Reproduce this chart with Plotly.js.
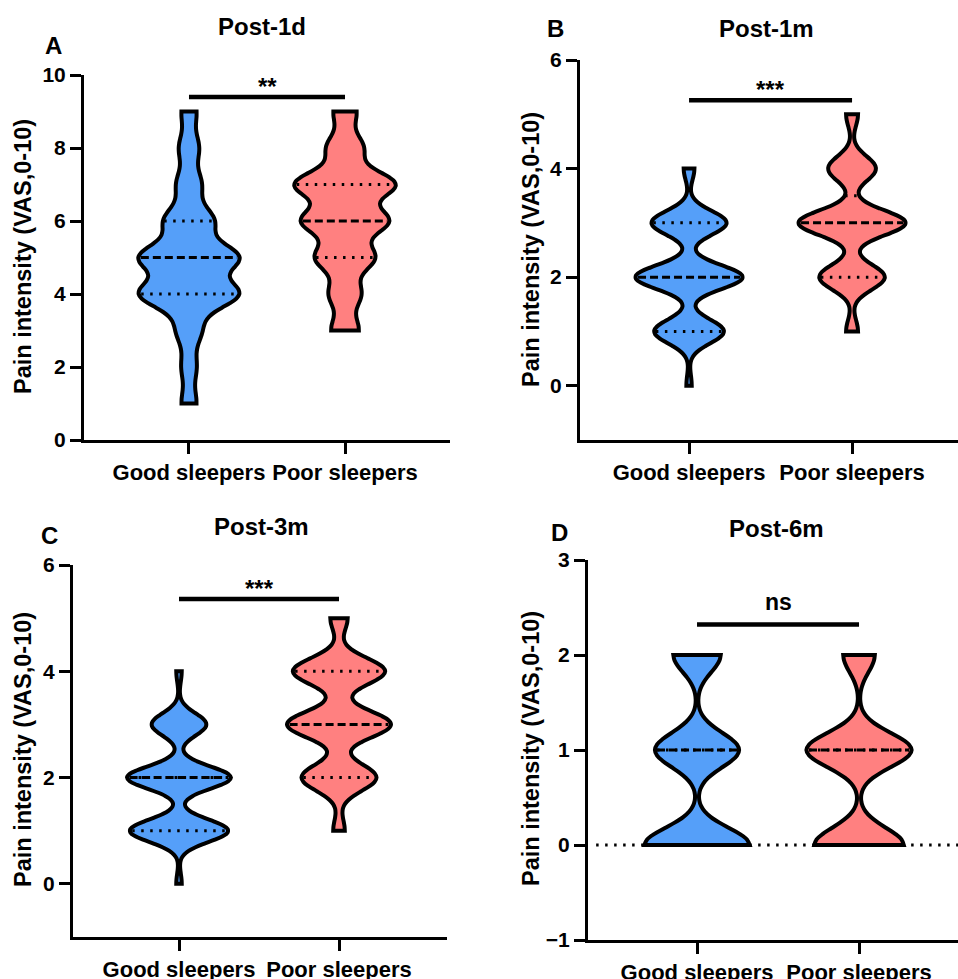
<!DOCTYPE html>
<html><head><meta charset="utf-8">
<script src="https://cdn.plot.ly/plotly-3.0.1.min.js"></script>
<style>html,body{margin:0;padding:0;background:#fff;}#chart{width:958px;height:979px;}</style>
</head><body><div id="chart"></div>
<script>
// ---------- data ----------
const groups = ['Good sleepers', 'Poor sleepers'];
const panelLetters = ['A', 'B', 'C', 'D'];
const panelTitles = ['Post-1d', 'Post-1m', 'Post-3m', 'Post-6m'];
const yTitle = 'Pain intensity (VAS,0-10)';
const significance = ['**', '***', '***', 'ns'];
// VAS score and number of patients with that score
const vasScores  = [0, 1, 2, 3, 4, 5, 6, 7, 8, 9, 10];
const post1dGood = [0, 3, 3, 5, 20, 20, 10, 5, 4, 3, 0];
const post1dPoor = [0, 0, 0, 6, 7, 13, 19, 22, 8, 5, 0];
const post1mGood = [1, 13, 20, 14, 2, 0, 0, 0, 0, 0, 0];
const post1mPoor = [0, 2, 11, 18, 8, 2, 0, 0, 0, 0, 0];
const post3mGood = [1, 18, 19, 10, 1, 0, 0, 0, 0, 0, 0];
const post3mPoor = [0, 2, 13, 18, 16, 3, 0, 0, 0, 0, 0];
const post6mGood = [20, 16, 9, 0, 0, 0, 0, 0, 0, 0, 0];
const post6mPoor = [17, 20, 6, 0, 0, 0, 0, 0, 0, 0, 0];
const yRanges = [[0, 10], [-1, 6], [-1, 6], [-1, 3]];
const yTickVals = [[0, 2, 4, 6, 8, 10], [0, 2, 4, 6], [0, 2, 4, 6], [-1, 0, 1, 2, 3]];

// ---------- styling / layout ----------
const FONT = '"Liberation Sans", Arial, sans-serif';
const colors = ['#559FF9', '#FF8080'];
const bandwidths = [[0.38, 0.36], [0.22, 0.23], [0.21, 0.25], [0.18, 0.18]];
const VW = 0.65; // violin full width in category units
const W = 958, H = 979;
// plot boxes in px: left, right, top, bottom
const boxes = [[84, 450, 75, 440], [580, 958, 60, 440], [73, 447, 565, 937], [588, 958, 560, 940]];
const xRanges = [[-0.673, 1.673], [-0.669, 1.65], [-0.6625, 1.675], [-0.673, 1.611]];
const sigY = [9.4, 5.26, 5.36, 2.32];
const letterPos = [[53, 46], [555, 29], [49, 535], [559, 532]];
const titlePos = [[262, 27], [766, 29], [261, 526], [776, 528]];
const yTitlePos = [[23, 257], [531, 250], [23, 750], [531, 749]];

const panelCounts = [[post1dGood, post1dPoor], [post1mGood, post1mPoor], [post3mGood, post3mPoor], [post6mGood, post6mPoor]];

function expand(counts) {
  const out = [];
  counts.forEach((c, i) => { for (let k = 0; k < c; k++) out.push(vasScores[i]); });
  return out;
}
function quantile(sorted, p) {
  const n = sorted.length, pos = (n + 1) * p;
  if (pos <= 1) return sorted[0];
  if (pos >= n) return sorted[n - 1];
  const lo = Math.floor(pos), fr = pos - lo;
  return sorted[lo - 1] + fr * (sorted[lo] - sorted[lo - 1]);
}
function makeKDE(vals, bw) {
  const f = 1 / (vals.length * bw * Math.sqrt(2 * Math.PI));
  return t => { let s = 0; for (const v of vals) { const u = (t - v) / bw; s += Math.exp(-0.5 * u * u); } return f * s; };
}
function maxKDE(vals, bw, kde) {
  const mn = Math.min(...vals), mx = Math.max(...vals), dist = mx - mn;
  const n = Math.ceil(dist / (bw / 3)), step = dist / n;
  let m = 0;
  for (let t = mn; t < mx + step / 2; t += step) m = Math.max(m, kde(t));
  return m;
}

const traces = [], shapes = [], annotations = [];
const layout = {
  width: W, height: H, margin: {l: 0, r: 0, t: 0, b: 0},
  paper_bgcolor: '#fff', plot_bgcolor: 'rgba(0,0,0,0)',
  showlegend: false, violinmode: 'overlay',
  font: {family: FONT, color: '#000'}
};

for (let p = 0; p < 4; p++) {
  const sfx = p === 0 ? '' : String(p + 1);
  const xa = 'x' + sfx, ya = 'y' + sfx;
  const [l, r, t, b] = boxes[p];
  layout['xaxis' + sfx] = {
    domain: [l / W, r / W], range: xRanges[p], type: 'category',
    categoryorder: 'array', categoryarray: groups, anchor: ya,
    showline: true, linecolor: '#000', linewidth: 3, mirror: false,
    ticks: 'outside', ticklen: 11, tickwidth: 3, tickcolor: '#000',
    tickfont: {family: FONT, size: 22, color: '#000', weight: 'bold'},
    showgrid: false, zeroline: false, fixedrange: true
  };
  layout['yaxis' + sfx] = {
    domain: [1 - b / H, 1 - t / H], range: yRanges[p], anchor: xa,
    tickmode: 'array', tickvals: yTickVals[p],
    showline: true, linecolor: '#000', linewidth: 3,
    ticks: 'outside', ticklen: 11, tickwidth: 3, tickcolor: '#000',
    tickfont: {family: FONT, size: 21, color: '#000', weight: 'bold'},
    showgrid: false, zeroline: false, fixedrange: true
  };

  for (let g = 0; g < 2; g++) {
    const vals = expand(panelCounts[p][g]);
    const bw = bandwidths[p][g];
    traces.push({
      type: 'violin', x0: groups[g], y: vals, name: groups[g],
      xaxis: xa, yaxis: ya, width: VW, bandwidth: bw, spanmode: 'hard',
      points: false, box: {visible: false}, meanline: {visible: false},
      fillcolor: colors[g], line: {color: '#000', width: 4},
      hoverinfo: 'skip', opacity: 1
    });
    // quartile lines
    const sorted = vals.slice().sort((a, c) => a - c);
    const kde = makeKDE(vals, bw);
    const mk = maxKDE(vals, bw, kde);
    const qs = [[0.25, '2.5px,6.5px'], [0.75, '2.5px,6.5px'], [0.5, '8px,4px']];
    qs.forEach(([pp, dash]) => {
      const q = quantile(sorted, pp);
      const hw = kde(q) / mk * VW / 2 * 0.95;
      shapes.push({type: 'line', xref: xa, yref: ya, x0: g - hw, x1: g + hw, y0: q, y1: q,
        line: {color: '#000', width: 3, dash: dash}});
    });
  }
  // significance bar
  shapes.push({type: 'line', xref: xa, yref: ya, x0: 0, x1: 1, y0: sigY[p], y1: sigY[p],
    line: {color: '#000', width: 4.5}});
  const isStar = significance[p].indexOf('*') >= 0;
  annotations.push({xref: xa, yref: ya, x: 0.5, y: sigY[p], text: significance[p], showarrow: false,
    xanchor: 'center', yanchor: 'bottom', yshift: isStar ? -5 : 8,
    font: {family: FONT, size: isStar ? 24 : 23, color: '#000', weight: 'bold'}});
  // panel letter, title, y title
  annotations.push({xref: 'paper', yref: 'paper', x: letterPos[p][0] / W, y: 1 - letterPos[p][1] / H,
    text: panelLetters[p], showarrow: false, xanchor: 'center', yanchor: 'middle',
    font: {family: FONT, size: 24, color: '#000', weight: 'bold'}});
  annotations.push({xref: 'paper', yref: 'paper', x: titlePos[p][0] / W, y: 1 - titlePos[p][1] / H,
    text: panelTitles[p], showarrow: false, xanchor: 'center', yanchor: 'middle',
    font: {family: FONT, size: 24, color: '#000', weight: 'bold'}});
  annotations.push({xref: 'paper', yref: 'paper', x: yTitlePos[p][0] / W, y: 1 - yTitlePos[p][1] / H,
    text: yTitle, textangle: -90, showarrow: false, xanchor: 'center', yanchor: 'middle',
    font: {family: FONT, size: 23.5, color: '#000', weight: 'bold'}});
}
// dotted reference line at 0 in panel D
shapes.push({type: 'line', xref: 'x4 domain', yref: 'y4', x0: 0.022, x1: 1, y0: 0, y1: 0,
  line: {color: '#000', width: 3, dash: '2.5px,6.5px'}, layer: 'below'});

layout.shapes = shapes;
layout.annotations = annotations;
Plotly.newPlot('chart', traces, layout, {staticPlot: true, displayModeBar: false});
</script></body></html>
